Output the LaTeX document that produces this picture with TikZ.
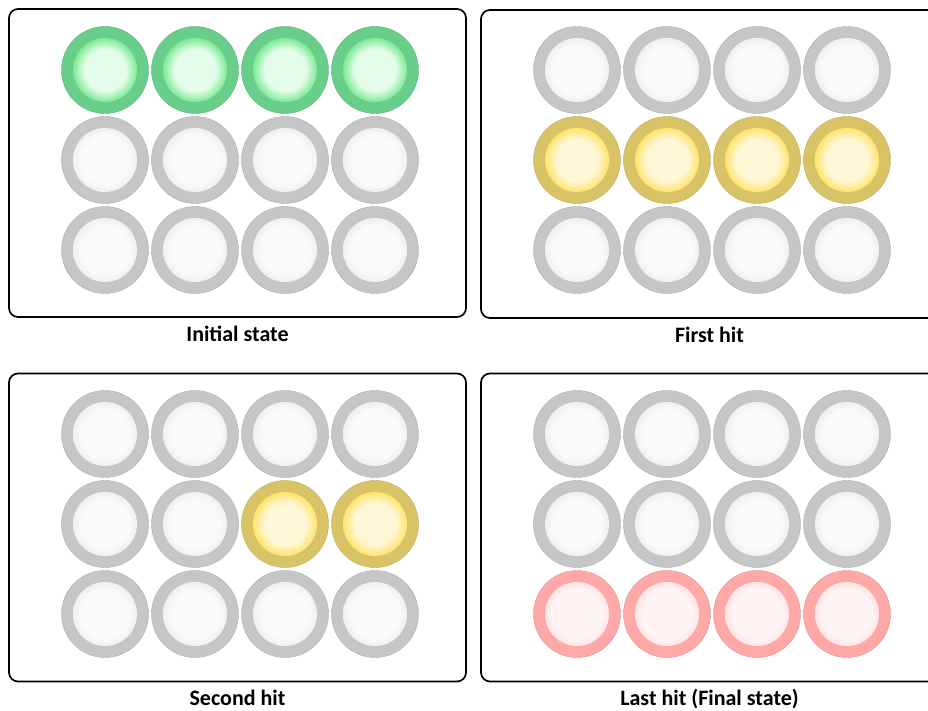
\documentclass[tikz,border=0pt]{standalone}
\usepackage{fontspec}
\setmainfont{Carlito}
\usetikzlibrary{positioning}
\definecolor{GrayRing}{RGB}{198,198,198}
\definecolor{GrayCore}{RGB}{250,250,250}
\definecolor{GrayGlow}{RGB}{224,224,224}
\definecolor{GreenRing}{RGB}{104,206,138}
\definecolor{GreenCore}{RGB}{228,252,234}
\definecolor{GreenGlow}{RGB}{20,215,60}
\definecolor{YellowRing}{RGB}{216,196,102}
\definecolor{YellowCore}{RGB}{255,247,214}
\definecolor{YellowGlow}{RGB}{255,208,0}
\definecolor{RedRing}{RGB}{255,168,168}
\definecolor{RedCore}{RGB}{255,244,244}
\definecolor{RedGlow}{RGB}{255,206,206}

% glossy core of a lamp: pale middle, saturated rim (25bp = rim)
\pgfdeclareradialshading{lampGray}{\pgfpointorigin}{color(0bp)=(GrayCore); color(14bp)=(GrayCore); color(25bp)=(GrayGlow); color(50bp)=(GrayGlow)}
\pgfdeclareradialshading{lampGreen}{\pgfpointorigin}{color(0bp)=(GreenCore); color(12bp)=(GreenCore); color(25bp)=(GreenGlow); color(50bp)=(GreenGlow)}
\pgfdeclareradialshading{lampYellow}{\pgfpointorigin}{color(0bp)=(YellowCore); color(12bp)=(YellowCore); color(25bp)=(YellowGlow); color(50bp)=(YellowGlow)}
\pgfdeclareradialshading{lampRed}{\pgfpointorigin}{color(0bp)=(RedCore); color(14bp)=(RedCore); color(25bp)=(RedGlow); color(50bp)=(RedGlow)}

\tikzset{
	panel/.style={draw, line width=1.7pt, rounded corners=9pt,
		minimum width=457pt, minimum height=308pt, inner sep=0pt},
	caption/.style={font=\fontsize{22}{26}\selectfont\bfseries, inner sep=0pt,
		text height=14pt, text depth=4pt},
	lamp/.style={circle, minimum size=87pt, inner sep=0pt, fill=#1Ring,
		draw=#1Ring!88!black, line width=0.4pt,
		path picture={
			\shade[shading=lamp#1] (path picture bounding box.center) circle (32pt);
		}}
}

\begin{document}
\begin{tikzpicture}[x=1pt, y=-1pt]
	\useasboundingbox (0,0) rectangle (928,711);
	\clip (0,0) rectangle (928,711);

	% the four boards
	\node[panel] (initial) at (237.5,163) {};
	\node[panel] (first) at (709.5,164) {};
	\node[panel] (second) at (237.5,527.5) {};
	\node[panel] (last) at (709.5,527.5) {};

	\node[caption, below=9pt of initial] (capinitial) {Initial state};
	\node[caption, below=9pt of first] (capfirst) {First hit};
	\node[caption, below=9pt of second] (capsecond) {Second hit};
	\node[caption, below=9pt of last] (caplast) {Last hit (Final state)};

	% lamps, row by row
	\foreach \p/\x/\y/\cols in {
		initial/105/70/{Green,Green,Green,Green,Gray,Gray,Gray,Gray,Gray,Gray,Gray,Gray},
		first/577/70/{Gray,Gray,Gray,Gray,Yellow,Yellow,Yellow,Yellow,Gray,Gray,Gray,Gray},
		second/105/434/{Gray,Gray,Gray,Gray,Gray,Gray,Yellow,Yellow,Gray,Gray,Gray,Gray},
		last/577/434/{Gray,Gray,Gray,Gray,Gray,Gray,Gray,Gray,Red,Red,Red,Red}}
	{
		\foreach \col [count=\k from 0] in \cols {
			\pgfmathtruncatemacro{\r}{div(\k,4)}
			\pgfmathtruncatemacro{\c}{mod(\k,4)}
			\node[lamp=\col] (\p-\k) at (\x+90*\c, \y+90*\r) {};
		}
	}
\end{tikzpicture}
\end{document}
